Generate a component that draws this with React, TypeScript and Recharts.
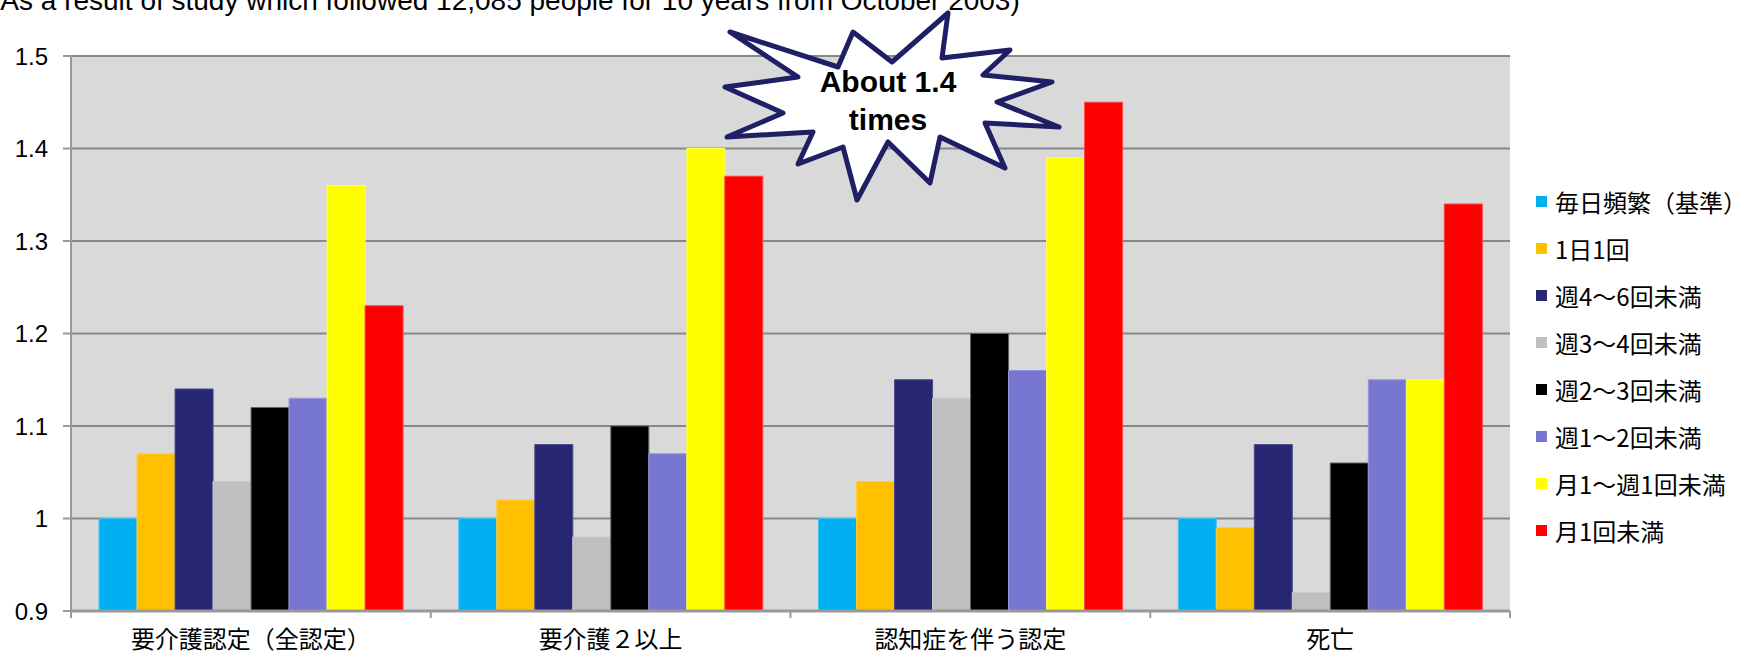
import React from "react";
import { BarChart, Bar, XAxis, YAxis, CartesianGrid } from "recharts";

const categories = ["要介護認定（全認定）", "要介護２以上", "認知症を伴う認定", "死亡"];

const seriesNames = [
  "毎日頻繁（基準）",
  "1日1回",
  "週4～6回未満",
  "週3～4回未満",
  "週2～3回未満",
  "週1～2回未満",
  "月1～週1回未満",
  "月1回未満",
];

const daily = [1.0, 1.0, 1.0, 1.0];
const oncePerDay = [1.07, 1.02, 1.04, 0.99];
const week4to6 = [1.14, 1.08, 1.15, 1.08];
const week3to4 = [1.04, 0.98, 1.13, 0.92];
const week2to3 = [1.12, 1.1, 1.2, 1.06];
const week1to2 = [1.13, 1.07, 1.16, 1.15];
const month1toWeek1 = [1.36, 1.4, 1.39, 1.15];
const underMonth1 = [1.23, 1.37, 1.45, 1.34];

const seriesValues = [daily, oncePerDay, week4to6, week3to4, week2to3, week1to2, month1toWeek1, underMonth1];

const yTicks = [0.9, 1, 1.1, 1.2, 1.3, 1.4, 1.5];

const COLORS = ["#00B0F0", "#FFC000", "#262673", "#BFBFBF", "#000000", "#7777D1", "#FFFF00", "#FF0000"];
const STROKES = ["#40C4F4", "#FFCC40", "#4A4A8C", "#CCCCCC", "#606060", "#9595DC", "#FFFF50", "#FF4545"];

const data = categories.map((name, i) => {
  const row: Record<string, string | number> = { name };
  seriesNames.forEach((s, k) => {
    row[`s${k}`] = seriesValues[k][i];
  });
  return row;
});

// label at band centre, tick marks on the band edges (Excel style)
const CatTick = (props: any) => {
  const { x, y, payload, index, width, visibleTicksCount } = props;
  const half = payload && payload.offset ? payload.offset : width / visibleTicksCount / 2;
  const last = index === visibleTicksCount - 1;
  return (
    <g>
      <line x1={x - half} y1={y} x2={x - half} y2={y + 7} stroke="#999999" strokeWidth={2} />
      {last && <line x1={x + half} y1={y} x2={x + half} y2={y + 7} stroke="#999999" strokeWidth={2} />}
      <text
        x={x}
        y={y + 26}
        textAnchor="middle"
        dominantBaseline="central"
        fontFamily="'Noto Sans CJK JP', sans-serif"
        fontSize={24}
        fill="#000"
      >
        {payload.value}
      </text>
    </g>
  );
};

const burst =
  "730,32 838,67 853,32 892,62 948,13 942,58 1010,50 983,75 1052,82 997,102 1059,127 985,123 1005,168 940,137 930,183 888,142 857,200 843,147 798,164 813,132 727,137 783,113 725,87 798,77";

export default function App() {
  return (
    <div style={{ position: "relative", width: 1751, height: 655, overflow: "hidden", background: "#fff" }}>
      <style>{"body{margin:0}"}</style>
      <BarChart
        width={1751}
        height={655}
        data={data}
        margin={{ top: 56, right: 241, left: 0, bottom: 0 }}
        barCategoryGap="7.8%"
        barGap={0}
      >
        <CartesianGrid vertical={false} fill="#D9D9D9" stroke="#888888" strokeWidth={2} />
        <XAxis
          dataKey="name"
          height={44}
          interval={0}
          tickLine={false}
          tickSize={0}
          tickMargin={0}
          axisLine={{ stroke: "#999999", strokeWidth: 3 }}
          tick={<CatTick />}
        />
        <YAxis
          width={71}
          domain={[0.9, 1.5]}
          ticks={yTicks}
          allowDataOverflow
          interval={0}
          tickSize={8}
          tickMargin={15}
          tickLine={{ stroke: "#999999", strokeWidth: 2 }}
          axisLine={{ stroke: "#999999", strokeWidth: 2 }}
          tick={{ fill: "#000", fontSize: 24, fontFamily: "'Liberation Sans', Arial, sans-serif" }}
        />
        {seriesNames.map((s, k) => (
          <Bar
            key={s}
            dataKey={`s${k}`}
            name={s}
            fill={COLORS[k]}
            stroke={STROKES[k]}
            strokeWidth={1}
            isAnimationActive={false}
          />
        ))}
      </BarChart>

      <div style={{ position: "absolute", left: 1536, top: 178, fontFamily: "'Noto Sans CJK JP', sans-serif" }}>
        {seriesNames.map((s, k) => (
          <div key={s} style={{ height: 47, display: "flex", alignItems: "center", whiteSpace: "nowrap" }}>
            <span style={{ display: "inline-block", width: 11, height: 11, background: COLORS[k], marginRight: 8 }} />
            <span style={{ fontSize: 24, color: "#000", lineHeight: "24px" }}>{s}</span>
          </div>
        ))}
      </div>

      <svg
        width={1751}
        height={655}
        style={{ position: "absolute", left: 0, top: 0, pointerEvents: "none" }}
      >
        <text x={-9} y={10} fontFamily="'Liberation Sans', Arial, sans-serif" fontSize={28} fill="#000">
          (As a result of study which followed 12,085 people for 10 years from October 2003)
        </text>
        <polygon points={burst} fill="#fff" stroke="#1F1F66" strokeWidth={5} strokeLinejoin="round" />
        <text
          x={888}
          textAnchor="middle"
          fontFamily="'Liberation Sans', Arial, sans-serif"
          fontWeight="bold"
          fontSize={30}
          fill="#000"
        >
          <tspan x={888} y={92}>About 1.4</tspan>
          <tspan x={888} y={130}>times</tspan>
        </text>
      </svg>
    </div>
  );
}
